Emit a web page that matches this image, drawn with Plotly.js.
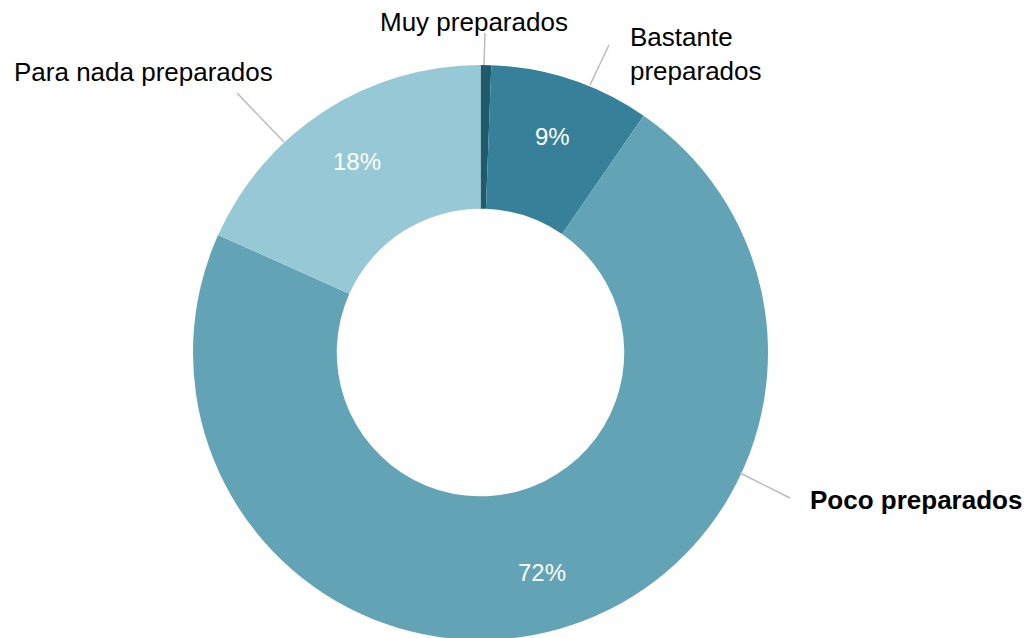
<!DOCTYPE html>
<html>
<head>
<meta charset="utf-8">
<script src="https://cdn.plot.ly/plotly-3.0.1.min.js"></script>
<style>html,body{margin:0;padding:0;background:#fff;overflow:hidden;}#chart{width:1031px;height:640px;}</style>
</head>
<body>
<div id="chart"></div>
<script>
// Data
const categories = ["Muy preparados", "Bastante preparados", "Poco preparados", "Para nada preparados"];
const values = [0.6, 9.0, 72.1, 18.3];
const colors = ["#1f5a6d", "#37809a", "#62a3b6", "#97c8d6"];
const percentLabels = values.map(v => v < 1 ? "" : Math.round(v) + "%");

// Geometry (pixels)
const W = 1031, H = 640;
const R = 287.5;                       // outer radius
const CX = 480.5, CY = H - R;          // pie centre
const TEXT_R = 228;                    // radius of the percentage labels
const px = x => x / W, py = y => 1 - y / H;

// Outside label layout (pixel positions of text and leader lines)
const outside = [
  {text: "Muy preparados", x: 474, y: 22, xanchor: "center", bold: false, line: [484, 65, 485, 33]},
  {text: "Bastante<br>preparados", x: 628, y: 54, xanchor: "left", bold: false, line: [590, 85, 609, 45]},
  {text: "Poco preparados", x: 808, y: 500, xanchor: "left", bold: true, line: [740, 473, 790, 498]},
  {text: "Para nada preparados", x: 12, y: 72, xanchor: "left", bold: false, line: [237, 93, 284, 142]}
];

const font = "Liberation Sans, Arial, sans-serif";

const trace = {
  type: "pie",
  labels: categories,
  values: values,
  textinfo: "none",
  hole: 0.5,
  sort: false,
  direction: "clockwise",
  rotation: 0,
  marker: {colors: colors, line: {width: 0}},
  domain: {x: [0, (2 * CX) / W], y: [0, (2 * R) / H]},
  showlegend: false,
  hoverinfo: "label+percent"
};

// percentage labels at the middle angle of each slice
const total = values.reduce((a, b) => a + b, 0);
let cum = 0;
const pctAnnotations = [];
values.forEach((v, i) => {
  const mid = (cum + v / 2) / total * 2 * Math.PI;
  cum += v;
  if (!percentLabels[i]) return;
  const x = CX + TEXT_R * Math.sin(mid);
  const y = CY - TEXT_R * Math.cos(mid);
  pctAnnotations.push({
    xref: "paper", yref: "paper", x: px(x), y: py(y),
    xanchor: "center", yanchor: "middle", showarrow: false,
    text: percentLabels[i],
    font: {family: font, size: 24, color: "#ffffff"}
  });
});

const labelAnnotations = outside.map(o => ({
  xref: "paper", yref: "paper",
  x: px(o.x), y: py(o.y),
  xanchor: o.xanchor, yanchor: "middle",
  align: "left",
  showarrow: false,
  text: o.bold ? "<b>" + o.text + "</b>" : o.text,
  font: {family: font, size: 26, color: "#000000"}
}));

const shapes = outside.map(o => ({
  type: "line", xref: "paper", yref: "paper",
  x0: px(o.line[0]), y0: py(o.line[1]), x1: px(o.line[2]), y1: py(o.line[3]),
  line: {color: "#bbbbbb", width: 1.5}
}));

const layout = {
  width: W, height: H,
  margin: {l: 0, r: 0, t: 0, b: 0},
  paper_bgcolor: "#ffffff",
  plot_bgcolor: "#ffffff",
  font: {family: font},
  annotations: labelAnnotations.concat(pctAnnotations),
  shapes: shapes
};

Plotly.newPlot("chart", [trace], layout, {displayModeBar: false, staticPlot: true});
</script>
</body>
</html>
